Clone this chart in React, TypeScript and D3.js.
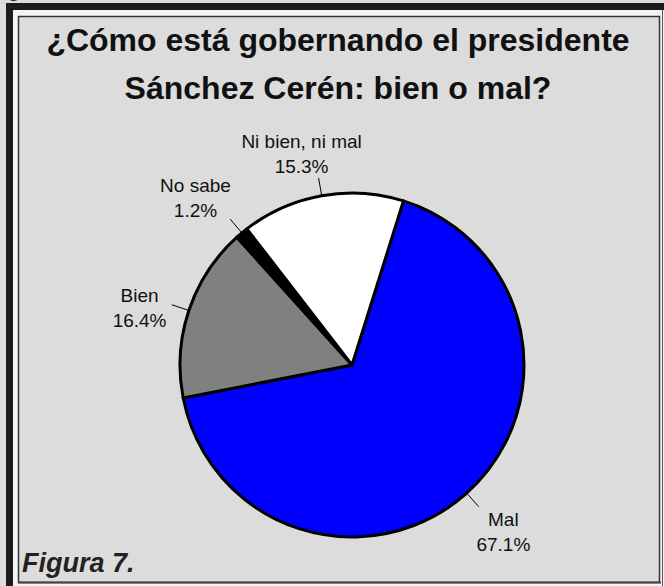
import React from 'react';
import * as d3 from 'd3';

const categories = ['Mal', 'Bien', 'No sabe', 'Ni bien, ni mal'];
const values = [67.1, 16.4, 1.2, 15.3];
const valueLabels = ['67.1%', '16.4%', '1.2%', '15.3%'];
const colors = ['#0000ff', '#808080', '#000000', '#ffffff'];
// small nudges so the labels sit where the original put them
const labelNudge = [
  [2, 0],
  [0, 14],
  [-13, 5],
  [-11, 9],
];

const W = 664;
const H = 586;
const cx = 352;
const cy = 365;
const radius = 172;
const startDeg = 17.4;

export default function App() {
  const pie = d3
    .pie<number>()
    .sort(null)
    .value((d) => d)
    .startAngle((startDeg * Math.PI) / 180)
    .endAngle((startDeg * Math.PI) / 180 + 2 * Math.PI);
  const arcs = pie(values);
  const arc = d3.arc<d3.PieArcDatum<number>>().innerRadius(0).outerRadius(radius);
  const font = "'Liberation Sans', Arial, sans-serif";

  const polar = (a: number, r: number) => [Math.sin(a) * r, -Math.cos(a) * r];

  return (
    <svg width={W} height={H} style={{ position: 'absolute', left: 0, top: 0 }}>
      <rect x={0} y={0} width={W} height={H} fill="#dcdcdc" />
      <text x={9} y={-4} fontFamily={font} fontWeight="bold" fontStyle="italic" fontSize={22} fill="#222">
        g
      </text>
      <rect x={6} y={3} width={W - 6} height={H - 3} fill="#1c1c1c" />
      <rect x={13} y={10} width={W - 13} height={H - 10} fill="#f4f4f4" />
      <rect x={18.5} y={16.5} width={641} height={566} fill="#dcdcdc" stroke="#333" strokeWidth={1.5} />
      <line x1={18} x2={661} y1={582.5} y2={582.5} stroke="#444" strokeWidth={2} />
      <line x1={662.5} x2={662.5} y1={10} y2={H} stroke="#555" strokeWidth={1} />

      <text textAnchor="middle" fontFamily={font} fontWeight="bold" fontSize={32} fill="#111">
        <tspan x={338} y={51}>¿Cómo está gobernando el presidente</tspan>
        <tspan x={338} y={99}>Sánchez Cerén: bien o mal?</tspan>
      </text>

      <g transform={`translate(${cx},${cy})`}>
        {arcs.map((a, i) => (
          <path key={categories[i]} d={arc(a) || ''} fill={colors[i]} stroke="#000" strokeWidth={3} strokeLinejoin="round" />
        ))}
        {arcs.map((a, i) => {
          const mid = (a.startAngle + a.endAngle) / 2;
          const [x1, y1] = polar(mid, radius);
          const [x2, y2] = polar(mid, radius + 18);
          const [px, py] = polar(mid, radius + 52);
          const lx = px + labelNudge[i][0];
          const ly = py + labelNudge[i][1];
          return (
            <g key={'l' + i}>
              <line x1={x1} y1={y1} x2={x2} y2={y2} stroke="#000" strokeWidth={1} />
              <text textAnchor="middle" fontFamily={font} fontSize={19} fill="#111">
                <tspan x={lx} y={ly - 6}>{categories[i]}</tspan>
                <tspan x={lx} y={ly + 19}>{valueLabels[i]}</tspan>
              </text>
            </g>
          );
        })}
      </g>

      <text x={22} y={572} fontFamily={font} fontWeight="bold" fontStyle="italic" fontSize={27} fill="#222">
        Figura 7.
      </text>
    </svg>
  );
}
